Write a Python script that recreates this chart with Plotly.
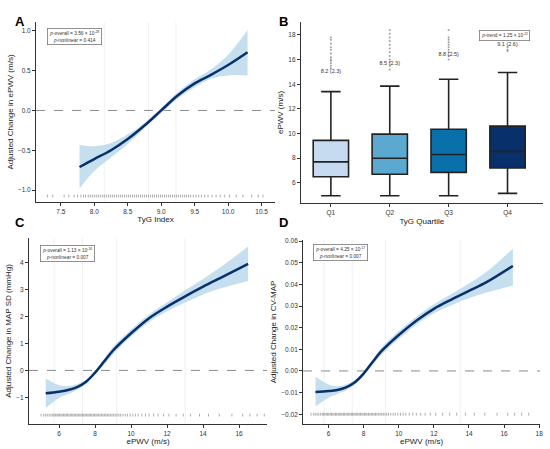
import plotly.graph_objects as go
from plotly.subplots import make_subplots

# ---- Panel A: TyG index vs adjusted change in ePWV ----
tyg_x = [7.78, 8.0, 8.25, 8.5, 8.75, 9.0, 9.25, 9.5, 9.75, 10.0, 10.29]
tyg_fit = [-0.71, -0.61, -0.50, -0.36, -0.19, 0.0, 0.19, 0.34, 0.45, 0.57, 0.73]
tyg_lo = [-0.98, -0.76, -0.59, -0.42, -0.22, -0.03, 0.15, 0.29, 0.40, 0.44, 0.44]
tyg_hi = [-0.43, -0.45, -0.41, -0.30, -0.16, 0.03, 0.23, 0.39, 0.52, 0.70, 1.01]
tyg_knots = [8.15, 8.81, 9.22]
tyg_rug = [7.30, 7.38, 7.55, 7.62, 7.70, 7.75, 7.80, 7.84, 7.87, 7.91, 7.94, 7.97,
           8.00, 8.03, 8.06, 8.09, 8.12, 8.15, 8.18, 8.21, 8.24, 8.27, 8.30, 8.33,
           8.36, 8.39, 8.42, 8.45, 8.48, 8.51, 8.54, 8.57, 8.60, 8.63, 8.66, 8.69,
           8.72, 8.75, 8.78, 8.81, 8.84, 8.87, 8.90, 8.93, 8.96, 8.99, 9.02, 9.05,
           9.08, 9.11, 9.14, 9.17, 9.20, 9.23, 9.26, 9.29, 9.32, 9.35, 9.38, 9.41,
           9.44, 9.48, 9.52, 9.56, 9.60, 9.65, 9.70, 9.76, 9.82, 9.88, 9.95, 10.02,
           10.12, 10.22, 10.35, 10.45, 10.52]

# ---- Panel B: ePWV by TyG quartile ----
quartiles = ["Q1", "Q2", "Q3", "Q4"]
box_q1 = [6.5, 6.7, 6.85, 7.2]
box_median = [7.7, 8.0, 8.3, 8.55]
box_q3 = [9.45, 9.95, 10.35, 10.6]
box_low = [4.95, 4.95, 4.95, 5.15]
box_high = [13.4, 13.85, 14.4, 14.95]
box_colors = ["#c6dbef", "#5ba8d0", "#0a70ab", "#08306b"]
outliers = {
    "Q1": [15.3, 15.5, 15.7, 15.9, 16.0, 16.2, 16.5, 16.8, 17.0, 17.3, 17.6, 17.8],
    "Q2": [15.2, 15.5, 15.8, 16.0, 16.3, 16.6, 16.9, 17.2, 17.5, 17.8, 18.1, 18.4],
    "Q3": [16.0, 16.3, 16.6, 16.8, 17.0, 17.2, 17.4, 17.6, 17.8, 18.4],
    "Q4": [16.7, 16.8, 17.0],
}
mean_labels = ["8.2 (2.3)", "8.5 (2.3)", "8.8 (2.5)", "9.1 (2.6)"]
label_y = [15.0, 15.7, 16.4, 17.2]

# ---- Panel C: ePWV vs adjusted change in MAP SD ----
pwv_x = [5.26, 6.0, 6.5, 7.0, 7.5, 8.0, 8.5, 9.0, 10.0, 11.0, 12.0, 13.0, 14.0, 15.0, 16.5]
mapsd_fit = [-0.85, -0.79, -0.73, -0.62, -0.42, -0.08, 0.33, 0.74, 1.38, 1.94, 2.37, 2.75, 3.11, 3.45, 3.96]
mapsd_lo = [-1.40, -1.02, -0.88, -0.73, -0.50, -0.15, 0.22, 0.60, 1.25, 1.80, 2.20, 2.52, 2.82, 3.05, 3.32]
mapsd_hi = [-0.30, -0.55, -0.58, -0.51, -0.34, -0.01, 0.44, 0.88, 1.52, 2.08, 2.53, 2.98, 3.40, 3.85, 4.60]
pwv_knots_c = [5.72, 7.3, 9.2, 13.0]

# ---- Panel D: ePWV vs adjusted change in CV-MAP ----
cvmap_fit = [-0.0097, -0.0093, -0.0088, -0.0076, -0.0052, -0.0012, 0.0040, 0.0090, 0.0166, 0.0232, 0.0287, 0.0330, 0.0370, 0.0410, 0.0485]
cvmap_lo = [-0.0165, -0.0124, -0.0106, -0.0090, -0.0062, -0.0020, 0.0028, 0.0074, 0.0148, 0.0214, 0.0266, 0.0304, 0.0336, 0.0362, 0.0395]
cvmap_hi = [-0.0027, -0.0062, -0.0070, -0.0062, -0.0042, -0.0004, 0.0052, 0.0106, 0.0184, 0.0250, 0.0308, 0.0356, 0.0404, 0.0458, 0.0565]
pwv_knots_d = [5.75, 7.35, 9.25, 13.5]

pwv_rug = [5.0, 5.15, 5.25, 5.35, 5.45, 5.55, 5.65, 5.72, 5.8, 5.88, 5.95, 6.02, 6.1,
           6.17, 6.25, 6.32, 6.4, 6.47, 6.55, 6.62, 6.7, 6.77, 6.85, 6.92, 7.0, 7.07,
           7.15, 7.22, 7.3, 7.37, 7.45, 7.52, 7.6, 7.67, 7.75, 7.82, 7.9, 7.97, 8.05,
           8.12, 8.2, 8.28, 8.36, 8.44, 8.52, 8.6, 8.68, 8.76, 8.85, 8.94, 9.03, 9.12,
           9.22, 9.32, 9.42, 9.55, 9.68, 9.8, 9.95, 10.1, 10.25, 10.4, 10.6, 10.8,
           11.0, 11.25, 11.5, 11.8, 12.1, 12.5, 12.9, 13.3, 13.8, 14.3, 14.9, 15.6,
           16.2, 16.6, 17.0, 17.4]

CURVE = "#08306b"
BAND = "#c6dfef"
FONT = "Liberation Sans"
RUG = "rgba(90,90,90,0.5)"

fig = make_subplots(rows=2, cols=2)

# custom panel placement (paper coords)
domains = {
    (1, 1): ([0.0655, 0.5], [0.550, 0.951]),
    (1, 2): ([0.547, 0.987], [0.548, 0.951]),
    (2, 1): ([0.0527, 0.4855], [0.0557, 0.470]),
    (2, 2): ([0.551, 0.982], [0.0557, 0.4655]),
}


def add_spline_panel(row, col, x, fit, lo, hi, knots, rug, rug_y):
    fig.add_trace(go.Scatter(x=x, y=lo, mode="lines", line=dict(width=0, shape="spline"),
                             hoverinfo="skip", showlegend=False), row=row, col=col)
    fig.add_trace(go.Scatter(x=x, y=hi, mode="lines", line=dict(width=0, shape="spline"),
                             fill="tonexty", fillcolor=BAND, hoverinfo="skip",
                             showlegend=False), row=row, col=col)
    fig.add_trace(go.Scatter(x=x, y=fit, mode="lines",
                             line=dict(color=CURVE, width=2.5, shape="spline"),
                             showlegend=False), row=row, col=col)
    fig.add_trace(go.Scatter(x=rug, y=[rug_y] * len(rug), mode="markers",
                             marker=dict(symbol="line-ns-open", size=2, color=RUG,
                                         line=dict(color=RUG, width=1)),
                             hoverinfo="skip", showlegend=False), row=row, col=col)
    # reference lines go in after the traces so the subplot is not skipped as empty
    for k in knots:
        fig.add_vline(x=k, line=dict(color="#ededed", width=0.8), layer="below",
                      row=row, col=col)
    fig.add_hline(y=0, line=dict(color="#8a8a8a", width=1, dash="dash"), layer="below",
                  row=row, col=col)


add_spline_panel(1, 1, tyg_x, tyg_fit, tyg_lo, tyg_hi, tyg_knots, tyg_rug, -1.075)
add_spline_panel(2, 1, pwv_x, mapsd_fit, mapsd_lo, mapsd_hi, pwv_knots_c, pwv_rug, -1.66)
add_spline_panel(2, 2, pwv_x, cvmap_fit, cvmap_lo, cvmap_hi, pwv_knots_d, pwv_rug, -0.02)

# boxes
for i, q in enumerate(quartiles):
    fig.add_trace(go.Box(
        x=[q], q1=[box_q1[i]], median=[box_median[i]], q3=[box_q3[i]],
        lowerfence=[box_low[i]], upperfence=[box_high[i]],
        fillcolor=box_colors[i], line=dict(color="#222222", width=1.6),
        width=0.6, whiskerwidth=0.55, boxpoints=False, showlegend=False,
    ), row=1, col=2)
    fig.add_trace(go.Scatter(
        x=[q] * len(outliers[q]), y=outliers[q], mode="markers",
        marker=dict(size=2, color="rgba(80,80,80,0.55)"),
        showlegend=False, hoverinfo="skip",
    ), row=1, col=2)

fig.add_trace(go.Scatter(
    x=quartiles, y=label_y, mode="text", text=mean_labels,
    textfont=dict(size=5.5, color="#333333", family=FONT),
    showlegend=False, hoverinfo="skip",
), row=1, col=2)

axis_style = dict(showgrid=False, zeroline=False, showline=True, linecolor="#333333",
                  linewidth=1, ticks="outside", ticklen=3, tickcolor="#333333",
                  tickfont=dict(size=6.5, color="#333333", family=FONT),
                  title_font=dict(size=8, color="#222222", family=FONT),
                  automargin=False)

for (r, c), (dx, dy) in domains.items():
    fig.update_xaxes(domain=dx, row=r, col=c, **axis_style)
    fig.update_yaxes(domain=dy, row=r, col=c, **axis_style)

fig.update_xaxes(range=[7.13, 10.7], tickvals=[7.5, 8.0, 8.5, 9.0, 9.5, 10.0, 10.5],
                 tickformat=".1f", title_text="TyG Index", title_standoff=2, row=1, col=1)
fig.update_yaxes(range=[-1.15, 1.11], tickvals=[-1.0, -0.5, 0.0, 0.5, 1.0],
                 tickformat=".1f", title_text="Adjusted Change in ePWV (m/s)",
                 title_standoff=3, row=1, col=1)

fig.update_xaxes(range=[-0.51, 3.6], title_text="TyG Quartile", title_standoff=2, row=1, col=2)
fig.update_yaxes(range=[4.37, 19.05], tickvals=[6, 8, 10, 12, 14, 16, 18],
                 title_text="ePWV (m/s)", title_standoff=3, row=1, col=2)

fig.update_xaxes(range=[4.33, 17.55], tickvals=[6, 8, 10, 12, 14, 16],
                 title_text="ePWV (m/s)", title_standoff=2, row=2, col=1)
fig.update_yaxes(range=[-1.99, 4.92], tickvals=[-1, 0, 1, 2, 3, 4],
                 title_text="Adjusted Change in MAP SD (mmHg)", title_standoff=3, row=2, col=1)

fig.update_xaxes(range=[4.55, 18.05], tickvals=[6, 8, 10, 12, 14, 16, 18],
                 title_text="ePWV (m/s)", title_standoff=2, row=2, col=2)
fig.update_yaxes(range=[-0.0245, 0.0605],
                 tickvals=[-0.02, -0.01, 0.0, 0.01, 0.02, 0.03, 0.04, 0.05, 0.06],
                 tickformat=".2f", title_text="Adjusted Change in CV-MAP",
                 title_standoff=3, row=2, col=2)

# p-value boxes and panel letters
stat_boxes = [
    (0.1355, 0.9376, "<i>p</i>-overall = 3.56 × 10<sup>-28</sup><br><i>p</i>-nonlinear = 0.414"),
    (0.918, 0.933, "<i>p</i>-trend = 1.25 × 10<sup>-22</sup>"),
    (0.1227, 0.4543, "<i>p</i>-overall = 1.13 × 10<sup>-16</sup><br><i>p</i>-nonlinear = 0.007"),
    (0.619, 0.4565, "<i>p</i>-overall = 4.25 × 10<sup>-17</sup><br><i>p</i>-nonlinear = 0.007"),
]
for x, y, txt in stat_boxes:
    fig.add_annotation(x=x, y=y, xref="paper", yref="paper", xanchor="center",
                       yanchor="top", text=txt, showarrow=False, align="center",
                       font=dict(size=4.8, color="#333333", family=FONT),
                       bordercolor="#777777", borderwidth=0.8, borderpad=1.5,
                       bgcolor="white")

letters = [("A", 0.024, 0.973), ("B", 0.515, 0.973), ("C", 0.024, 0.505), ("D", 0.515, 0.505)]
for letter, x, y in letters:
    fig.add_annotation(x=x, y=y, xref="paper", yref="paper", text=f"<b>{letter}</b>",
                       showarrow=False, font=dict(size=13, color="black", family=FONT))

fig.update_layout(
    width=550, height=449,
    margin=dict(l=0, r=0, t=0, b=0),
    plot_bgcolor="white", paper_bgcolor="white",
    font=dict(family=FONT),
    showlegend=False,
    hovermode=False,
)

# drop the browser's default page margin so the figure fills the window
fig.write_html("out.html", config={"staticPlot": True, "displayModeBar": False},
               post_script="document.body.style.margin='0';")
